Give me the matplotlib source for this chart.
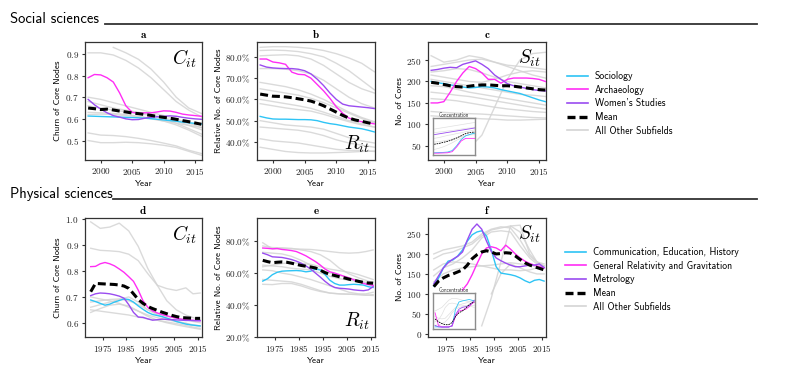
import numpy as np
import matplotlib
matplotlib.use('Agg')
import matplotlib.pyplot as plt
from matplotlib.lines import Line2D
from matplotlib.ticker import FuncFormatter

nan = np.nan

# ── years ─────────────────────────────────────────────────────────────
TOP_YEARS = list(range(1998, 2017))
TOP_GRAY_YEARS = list(range(1998, 2017, 2))
BOT_YEARS = list(range(1970, 2017, 2))
BOT_GRAY_YEARS = [1970, 1974, 1978, 1982, 1986, 1990, 1994, 1998, 2002, 2006, 2010, 2013, 2016]

# ── Social sciences ───────────────────────────────────────────────────
SOC_LABELS = ['Sociology', 'Archaeology', "Women's Studies"]

A_SOC = [0.613, 0.612, 0.611, 0.610, 0.609, 0.608, 0.607, 0.606, 0.605, 0.603,
         0.601, 0.598, 0.595, 0.592, 0.589, 0.585, 0.582, 0.579, 0.576]
A_ARCH = [0.790, 0.805, 0.803, 0.790, 0.770, 0.720, 0.660, 0.630, 0.626, 0.628,
          0.628, 0.632, 0.637, 0.636, 0.630, 0.622, 0.618, 0.615, 0.612]
A_WOM = [0.690, 0.665, 0.645, 0.628, 0.615, 0.608, 0.600, 0.596, 0.597, 0.603,
         0.607, 0.610, 0.612, 0.614, 0.612, 0.607, 0.603, 0.600, 0.598]
A_MEAN = [0.650, 0.647, 0.643, 0.645, 0.641, 0.636, 0.632, 0.627, 0.624, 0.620,
          0.616, 0.611, 0.607, 0.603, 0.598, 0.592, 0.587, 0.581, 0.575]
A_GRAY = [
    [0.905, 0.905, 0.895, 0.870, 0.835, 0.790, 0.735, 0.680, 0.640, 0.610],
    [nan, nan, 0.930, 0.905, 0.875, 0.830, 0.770, 0.700, 0.650, 0.625],
    [0.700, 0.690, 0.675, 0.660, 0.645, 0.630, 0.615, 0.600, 0.580, 0.560],
    [0.680, 0.665, 0.650, 0.640, 0.630, 0.620, 0.605, 0.590, 0.570, 0.550],
    [0.660, 0.650, 0.640, 0.633, 0.625, 0.615, 0.600, 0.580, 0.555, 0.530],
    [0.630, 0.628, 0.625, 0.620, 0.612, 0.603, 0.590, 0.572, 0.548, 0.520],
    [0.620, 0.622, 0.620, 0.615, 0.610, 0.600, 0.590, 0.580, 0.570, 0.560],
    [0.535, 0.525, 0.523, 0.518, 0.510, 0.500, 0.488, 0.475, 0.455, 0.440],
    [0.500, 0.490, 0.490, 0.492, 0.490, 0.485, 0.478, 0.468, 0.450, 0.432],
]

B_SOC = [0.520, 0.513, 0.508, 0.507, 0.507, 0.506, 0.505, 0.505, 0.504, 0.500,
         0.492, 0.486, 0.482, 0.476, 0.470, 0.466, 0.462, 0.455, 0.447]
B_ARCH = [0.790, 0.790, 0.776, 0.772, 0.765, 0.728, 0.718, 0.716, 0.700, 0.670,
          0.640, 0.605, 0.565, 0.535, 0.512, 0.502, 0.495, 0.490, 0.485]
B_WOM = [0.762, 0.752, 0.748, 0.746, 0.745, 0.745, 0.742, 0.735, 0.720, 0.695,
         0.665, 0.630, 0.600, 0.578, 0.570, 0.567, 0.564, 0.561, 0.557]
B_MEAN = [0.625, 0.620, 0.615, 0.614, 0.612, 0.608, 0.603, 0.598, 0.592, 0.582,
          0.570, 0.555, 0.540, 0.525, 0.512, 0.503, 0.497, 0.490, 0.484]
B_GRAY = [
    [0.845, 0.848, 0.848, 0.845, 0.840, 0.830, 0.815, 0.795, 0.770, 0.730],
    [0.830, 0.832, 0.830, 0.825, 0.815, 0.800, 0.770, 0.735, 0.690, 0.645],
    [0.805, 0.808, 0.810, 0.805, 0.790, 0.760, 0.720, 0.680, 0.650, 0.630],
    [0.745, 0.745, 0.742, 0.735, 0.720, 0.690, 0.650, 0.610, 0.580, 0.560],
    [0.680, 0.670, 0.660, 0.645, 0.625, 0.600, 0.570, 0.540, 0.515, 0.495],
    [0.650, 0.640, 0.630, 0.620, 0.605, 0.585, 0.560, 0.535, 0.510, 0.490],
    [0.600, 0.590, 0.580, 0.570, 0.558, 0.540, 0.520, 0.500, 0.485, 0.470],
    [0.580, 0.570, 0.560, 0.552, 0.545, 0.530, 0.512, 0.495, 0.480, 0.470],
    [0.500, 0.490, 0.480, 0.475, 0.470, 0.460, 0.440, 0.420, 0.405, 0.395],
    [0.470, 0.465, 0.460, 0.455, 0.445, 0.430, 0.410, 0.395, 0.385, 0.375],
    [0.415, 0.405, 0.400, 0.395, 0.385, 0.375, 0.365, 0.360, 0.360, 0.355],
    [0.375, 0.365, 0.355, 0.350, 0.348, 0.348, 0.350, 0.352, 0.355, 0.357],
]

C_SOC = [200, 197, 195, 192, 190, 187, 185, 186, 188, 187, 185, 181, 178, 175, 172, 167, 162, 157, 153]
C_ARCH = [150, 150, 153, 175, 200, 220, 235, 230, 220, 205, 205, 196, 205, 208, 208, 208, 207, 205, 200]
C_WOM = [226, 228, 231, 233, 232, 240, 244, 248, 240, 230, 215, 205, 195, 190, 187, 184, 181, 179, 178]
C_MEAN = [198, 196, 193, 190, 188, 187, 189, 191, 192, 192, 191, 190, 190, 189, 187, 185, 183, 181, 180]
C_GRAY = [
    [260, 245, 250, 260, 255, 245, 238, 235, 232, 228],
    [235, 240, 245, 250, 252, 245, 235, 225, 215, 208],
    [222, 225, 230, 228, 220, 210, 200, 195, 190, 185],
    [215, 210, 205, 200, 198, 205, 215, 222, 225, 222],
    [205, 200, 195, 190, 185, 180, 175, 170, 168, 165],
    [190, 188, 182, 175, 170, 165, 160, 155, 150, 145],
    [175, 172, 168, 165, 160, 155, 150, 145, 140, 136],
    [160, 158, 155, 150, 145, 140, 136, 133, 130, 128],
    [130, 128, 126, 125, 124, 122, 120, 118, 116, 115],
    [120, 118, 116, 115, 113, 112, 110, 110, 111, 112],
    [nan, nan, nan, 45, 75, 140, 205, 250, 265, 268],
]
# concentration inset (normalised)
C_IN_SOC = [0.06, 0.065, 0.07, 0.08, 0.12, 0.25, 0.42, 0.52, 0.56, 0.59]
C_IN_ARCH = [0.05, 0.05, 0.055, 0.06, 0.09, 0.22, 0.38, 0.45, 0.45, 0.45]
C_IN_WOM = [0.55, 0.57, 0.59, 0.61, 0.63, 0.65, 0.67, 0.69, 0.71, 0.73]
C_IN_MEAN = [0.29, 0.31, 0.34, 0.37, 0.41, 0.46, 0.52, 0.58, 0.61, 0.62]
C_IN_GRAY = [
    [0.70, 0.72, 0.74, 0.76, 0.78, 0.80, 0.82, 0.84, 0.86, 0.88],
    [0.45, 0.47, 0.50, 0.53, 0.55, 0.58, 0.60, 0.63, 0.65, 0.68],
    [0.15, 0.18, 0.22, 0.27, 0.33, 0.40, 0.46, 0.52, 0.56, 0.60],
    [0.35, 0.36, 0.38, 0.40, 0.43, 0.47, 0.50, 0.52, 0.54, 0.55],
    [0.60, 0.62, 0.63, 0.65, 0.66, 0.68, 0.70, 0.72, 0.73, 0.75],
]

# ── Physical sciences ─────────────────────────────────────────────────
PHY_LABELS = ['Communication, Education, History', 'General Relativity and Gravitation', 'Metrology']

D_COM = [0.688, 0.682, 0.675, 0.668, 0.672, 0.680, 0.686, 0.692, 0.690, 0.680, 0.665, 0.652,
         0.640, 0.632, 0.628, 0.624, 0.618, 0.612, 0.605, 0.600, 0.595, 0.592, 0.590, 0.588]
D_GRG = [0.817, 0.818, 0.828, 0.833, 0.828, 0.820, 0.808, 0.795, 0.778, 0.760, 0.726, 0.685,
         0.660, 0.646, 0.638, 0.632, 0.627, 0.622, 0.618, 0.614, 0.611, 0.610, 0.609, 0.608]
D_MET = [0.705, 0.712, 0.715, 0.714, 0.712, 0.708, 0.703, 0.695, 0.670, 0.640, 0.622, 0.621,
         0.615, 0.610, 0.612, 0.614, 0.613, 0.612, 0.611, 0.610, 0.609, 0.609, 0.608, 0.608]
D_MEAN = [0.720, 0.752, 0.751, 0.750, 0.749, 0.748, 0.746, 0.742, 0.733, 0.712, 0.690, 0.675,
          0.663, 0.655, 0.648, 0.641, 0.635, 0.629, 0.624, 0.620, 0.619, 0.618, 0.617, 0.617]
D_GRAY = [
    [0.990, 0.965, 0.970, 0.985, 0.955, 0.895, 0.810, 0.745, 0.685, 0.650, 0.630, 0.620, 0.612],
    [0.888, 0.880, 0.878, 0.875, 0.865, 0.840, 0.790, 0.745, 0.732, 0.725, 0.735, 0.712, 0.715],
    [0.640, 0.655, 0.668, 0.672, 0.665, 0.645, 0.625, 0.610, 0.600, 0.592, 0.585, 0.580, 0.575],
    [0.700, 0.692, 0.685, 0.675, 0.660, 0.645, 0.630, 0.620, 0.612, 0.605, 0.598, 0.592, 0.588],
    [0.650, 0.645, 0.640, 0.635, 0.630, 0.622, 0.615, 0.610, 0.603, 0.597, 0.590, 0.583, 0.578],
    [0.680, 0.685, 0.690, 0.692, 0.685, 0.670, 0.650, 0.635, 0.625, 0.618, 0.612, 0.605, 0.600],
    [0.660, 0.670, 0.680, 0.690, 0.700, 0.680, 0.650, 0.630, 0.615, 0.605, 0.598, 0.590, 0.585],
]

E_COM = [0.550, 0.565, 0.590, 0.605, 0.612, 0.614, 0.615, 0.616, 0.614, 0.608, 0.612, 0.625,
         0.620, 0.590, 0.555, 0.535, 0.525, 0.525, 0.528, 0.530, 0.528, 0.525, 0.515, 0.510]
E_GRG = [0.757, 0.755, 0.752, 0.754, 0.748, 0.745, 0.741, 0.735, 0.722, 0.708, 0.690, 0.672,
         0.650, 0.625, 0.608, 0.600, 0.590, 0.580, 0.570, 0.558, 0.548, 0.535, 0.528, 0.524]
E_MET = [0.725, 0.715, 0.702, 0.700, 0.698, 0.692, 0.685, 0.675, 0.662, 0.645, 0.625, 0.600,
         0.575, 0.548, 0.525, 0.510, 0.505, 0.503, 0.500, 0.495, 0.492, 0.490, 0.495, 0.515]
E_MEAN = [0.680, 0.672, 0.665, 0.668, 0.670, 0.668, 0.662, 0.655, 0.648, 0.643, 0.638, 0.632,
          0.618, 0.603, 0.592, 0.585, 0.577, 0.570, 0.562, 0.555, 0.548, 0.542, 0.538, 0.537]
E_GRAY = [
    [0.790, 0.752, 0.755, 0.752, 0.750, 0.748, 0.742, 0.735, 0.728, 0.725, 0.728, 0.735, 0.745],
    [0.770, 0.760, 0.758, 0.755, 0.745, 0.735, 0.715, 0.680, 0.630, 0.595, 0.570, 0.555, 0.540],
    [0.730, 0.725, 0.720, 0.705, 0.680, 0.650, 0.620, 0.600, 0.585, 0.570, 0.555, 0.540, 0.520],
    [0.650, 0.645, 0.640, 0.630, 0.625, 0.620, 0.600, 0.580, 0.565, 0.555, 0.548, 0.542, 0.545],
    [0.620, 0.615, 0.600, 0.590, 0.575, 0.560, 0.540, 0.520, 0.500, 0.480, 0.470, 0.470, 0.480],
    [0.560, 0.555, 0.550, 0.545, 0.530, 0.510, 0.490, 0.475, 0.470, 0.468, 0.465, 0.462, 0.465],
    [0.530, 0.528, 0.535, 0.535, 0.520, 0.500, 0.485, 0.475, 0.470, 0.468, 0.466, 0.462, 0.460],
    [0.640, 0.650, 0.660, 0.665, 0.660, 0.655, 0.640, 0.625, 0.615, 0.605, 0.590, 0.575, 0.560],
]

F_COM = [120, 140, 165, 182, 185, 195, 210, 232, 248, 255, 258, 245,
         210, 168, 152, 150, 148, 145, 140, 133, 128, 134, 136, 132]
F_GRG = [nan, nan, nan, nan, nan, nan, 110, 125, 148, 175, 200, 215,
         218, 215, 208, 222, 212, 200, 190, 182, 176, 172, 168, 165]
F_MET = [125, 145, 165, 178, 187, 194, 205, 235, 262, 275, 262, 232,
         206, 190, 183, 177, 172, 168, 168, 170, 172, 172, 175, 166]
F_MEAN = [118, 132, 140, 146, 150, 155, 160, 172, 188, 198, 205, 208,
          205, 200, 201, 203, 202, 195, 186, 178, 172, 168, 164, 160]
F_GRAY = [
    [188, 200, 205, 215, 225, 245, 260, 265, 270, 255, 210, 180, 170],
    [nan, nan, nan, nan, nan, 20, 90, 180, 270, 272, 200, 180, 170],
    [145, 165, 175, 190, 210, 240, 255, 258, 255, 220, 190, 175, 165],
    [160, 175, 180, 178, 175, 170, 165, 160, 160, 158, 160, 165, 170],
    [nan, nan, nan, nan, nan, nan, 100, 150, 175, 165, 155, 150, 150],
    [200, 210, 215, 220, 230, 250, 262, 268, 265, 235, 195, 180, 175],
    [130, 150, 160, 165, 168, 170, 172, 175, 178, 175, 172, 168, 165],
]
F_IN_COM = [0.06, 0.06, 0.06, 0.06, 0.06, 0.08, 0.55, 0.75, 0.78, 0.80, 0.82, 0.80, 0.78]
F_IN_GRG = [0.45, 0.10, 0.06, 0.06, 0.06, 0.08, 0.35, 0.50, 0.52, 0.55, 0.62, 0.70, 0.75]
F_IN_MET = [0.10, 0.06, 0.05, 0.05, 0.05, 0.10, 0.40, 0.55, 0.60, 0.62, 0.65, 0.72, 0.80]
F_IN_MEAN = [0.28, 0.20, 0.15, 0.12, 0.12, 0.18, 0.35, 0.45, 0.50, 0.58, 0.68, 0.72, 0.75]
F_IN_GRAY = [
    [0.50, 0.55, 0.60, 0.70, 0.80, 0.85, 0.85, 0.83, 0.80, 0.78, 0.76, 0.75, 0.75],
    [0.20, 0.25, 0.40, 0.60, 0.70, 0.72, 0.70, 0.68, 0.66, 0.65, 0.63, 0.62, 0.60],
    [0.10, 0.12, 0.15, 0.20, 0.30, 0.45, 0.55, 0.60, 0.62, 0.63, 0.64, 0.65, 0.66],
    [0.35, 0.30, 0.28, 0.30, 0.40, 0.50, 0.60, 0.65, 0.70, 0.72, 0.75, 0.78, 0.80],
]

CYAN = '#2ec4f5'
MAGENTA = '#ff2df5'
PURPLE = '#9a4cf0'
GRAY = '#d4d4d4'
SPINE = '#333333'

plt.rcParams['font.family'] = ['cmss10', 'DejaVu Sans']
plt.rcParams['mathtext.fontset'] = 'cm'
plt.rcParams['axes.unicode_minus'] = False

TICK_FS = 6.6
LABEL_FS = 6.6


def style_axes(ax):
    for s in ax.spines.values():
        s.set_color(SPINE)
        s.set_linewidth(0.9)
    ax.tick_params(direction='out', length=2.5, width=0.8, color=SPINE,
                   labelsize=TICK_FS, pad=2, labelcolor='#222222')


def draw_panel(ax, yrs, gyrs, series, mean, grays, letter, symbol, sym_top,
               ylabel, yticks, ylim, xticks, xlim, yfmt):
    for g in grays:
        ax.plot(gyrs, g, color=GRAY, lw=1.0, alpha=0.85, zorder=1)
    for vals, c in zip(series, [CYAN, MAGENTA, PURPLE]):
        ax.plot(yrs, vals, color=c, lw=1.0, zorder=3)
    ax.plot(yrs, mean, color='black', lw=2.2, dashes=(2.6, 1.3), zorder=4)
    ax.set_xlim(*xlim)
    ax.set_ylim(*ylim)
    ax.set_xticks(xticks)
    ax.xaxis.set_major_formatter(FuncFormatter(lambda v, p: f'${int(v)}$'))
    ax.set_yticks(yticks)
    ax.yaxis.set_major_formatter(FuncFormatter(yfmt))
    ax.set_xlabel('Year', fontsize=LABEL_FS, labelpad=2)
    ax.set_ylabel(ylabel, fontsize=LABEL_FS, labelpad=2)
    ax.set_title(r'$\mathbf{' + letter + '}$', fontsize=8, pad=3)
    if sym_top:
        ax.text(0.96, 0.95, symbol, transform=ax.transAxes, ha='right', va='top', fontsize=14)
    else:
        ax.text(0.96, 0.04, symbol, transform=ax.transAxes, ha='right', va='bottom', fontsize=14)
    style_axes(ax)


def draw_inset(fig, rect, yrs, series, mean, grays, xlim):
    ia = fig.add_axes(rect)
    for g in grays:
        ia.plot(yrs, g, color='#e0e0e0', lw=0.5)
    for vals, c in zip(series, [CYAN, MAGENTA, PURPLE]):
        ia.plot(yrs, vals, color=c, lw=0.6)
    ia.plot(yrs, mean, color='black', lw=0.6, dashes=(2, 1))
    ia.set_xlim(*xlim)
    ia.set_ylim(0, 1)
    ia.set_xticks([])
    ia.set_yticks([])
    for s in ia.spines.values():
        s.set_color('#8c8c8c')
        s.set_linewidth(1.0)
    ia.set_title('Concentration', fontsize=3.8, pad=1, color='#333333')


def fmt_dec(v, p):
    return f'${v:.1f}$'


def fmt_pct(v, p):
    return f'${v * 100:.1f}\\%$'


def fmt_int(v, p):
    return f'${int(v)}$'


def main():
    W, H = 793, 377
    fig = plt.figure(figsize=(W / 100, H / 100), dpi=100)

    def rect(x0, y0, x1, y1):
        return [x0 / W, 1 - y1 / H, (x1 - x0) / W, (y1 - y0) / H]

    cols = [(85, 202), (257, 375), (428, 546)]
    top = (42, 160)
    bot = (218, 337)

    top_xlim = (1997.5, 2016.1)
    bot_xlim = (1967.6, 2016.8)
    top_xt = [2000, 2005, 2010, 2015]
    bot_xt = [1975, 1985, 1995, 2005, 2015]

    ax_a = fig.add_axes(rect(cols[0][0], top[0], cols[0][1], top[1]))
    draw_panel(ax_a, TOP_YEARS, TOP_GRAY_YEARS, [A_SOC, A_ARCH, A_WOM], A_MEAN, A_GRAY,
               'a', r'$C_{it}$', True, 'Churn of Core Nodes',
               [0.5, 0.6, 0.7, 0.8, 0.9], (0.41, 0.955), top_xt, top_xlim, fmt_dec)
    ax_b = fig.add_axes(rect(cols[1][0], top[0], cols[1][1], top[1]))
    draw_panel(ax_b, TOP_YEARS, TOP_GRAY_YEARS, [B_SOC, B_ARCH, B_WOM], B_MEAN, B_GRAY,
               'b', r'$R_{it}$', False, 'Relative No. of Core Nodes',
               [0.4, 0.5, 0.6, 0.7, 0.8], (0.315, 0.87), top_xt, top_xlim, fmt_pct)
    ax_c = fig.add_axes(rect(cols[2][0], top[0], cols[2][1], top[1]))
    draw_panel(ax_c, TOP_YEARS, TOP_GRAY_YEARS, [C_SOC, C_ARCH, C_WOM], C_MEAN, C_GRAY,
               'c', r'$S_{it}$', True, 'No. of Cores',
               [50, 100, 150, 200, 250], (17, 292), top_xt, top_xlim, fmt_int)
    draw_inset(fig, rect(433, 118, 475, 155), TOP_GRAY_YEARS,
               [C_IN_SOC, C_IN_ARCH, C_IN_WOM], C_IN_MEAN, C_IN_GRAY, top_xlim)

    ax_d = fig.add_axes(rect(cols[0][0], bot[0], cols[0][1], bot[1]))
    draw_panel(ax_d, BOT_YEARS, BOT_GRAY_YEARS, [D_COM, D_GRG, D_MET], D_MEAN, D_GRAY,
               'd', r'$C_{it}$', True, 'Churn of Core Nodes',
               [0.6, 0.7, 0.8, 0.9, 1.0], (0.545, 1.005), bot_xt, bot_xlim, fmt_dec)
    ax_e = fig.add_axes(rect(cols[1][0], bot[0], cols[1][1], bot[1]))
    draw_panel(ax_e, BOT_YEARS, BOT_GRAY_YEARS, [E_COM, E_GRG, E_MET], E_MEAN, E_GRAY,
               'e', r'$R_{it}$', False, 'Relative No. of Core Nodes',
               [0.2, 0.4, 0.6, 0.8], (0.2, 0.945), bot_xt, bot_xlim, fmt_pct)
    ax_f = fig.add_axes(rect(cols[2][0], bot[0], cols[2][1], bot[1]))
    draw_panel(ax_f, BOT_YEARS, BOT_GRAY_YEARS, [F_COM, F_GRG, F_MET], F_MEAN, F_GRAY,
               'f', r'$S_{it}$', True, 'No. of Cores',
               [0, 50, 100, 150, 200, 250], (-8, 290), bot_xt, bot_xlim, fmt_int)
    draw_inset(fig, rect(433, 293, 475, 329), BOT_GRAY_YEARS,
               [F_IN_COM, F_IN_GRG, F_IN_MET], F_IN_MEAN, F_IN_GRAY, bot_xlim)

    # legends
    def handles():
        return [Line2D([], [], color=CYAN, lw=1.2),
                Line2D([], [], color=MAGENTA, lw=1.2),
                Line2D([], [], color=PURPLE, lw=1.2),
                Line2D([], [], color='black', lw=2.4, dashes=(2.4, 1.2)),
                Line2D([], [], color=GRAY, lw=1.2)]

    for labels, x0, y0 in [(SOC_LABELS, 567, 71), (PHY_LABELS, 565, 247)]:
        fig.legend(handles(), labels + ['Mean', 'All Other Subfields'],
                   loc='upper left', bbox_to_anchor=(x0 / W, 1 - y0 / H),
                   frameon=False, fontsize=7, borderpad=0, borderaxespad=0,
                   handlelength=2.2, handletextpad=0.65, labelspacing=0.38)

    # section headers
    fig.text(10 / W, 1 - 19 / H, 'Social sciences', fontsize=10.5, va='center', ha='left')
    fig.add_artist(Line2D([105 / W, 757 / W], [1 - 24 / H, 1 - 24 / H],
                          transform=fig.transFigure, color=SPINE, lw=1.3))
    fig.text(10 / W, 1 - 194 / H, 'Physical sciences', fontsize=10.5, va='center', ha='left')
    fig.add_artist(Line2D([113 / W, 757 / W], [1 - 199 / H, 1 - 199 / H],
                          transform=fig.transFigure, color=SPINE, lw=1.3))

    fig.savefig('out.png', dpi=100)
    plt.close(fig)


if __name__ == '__main__':
    main()
